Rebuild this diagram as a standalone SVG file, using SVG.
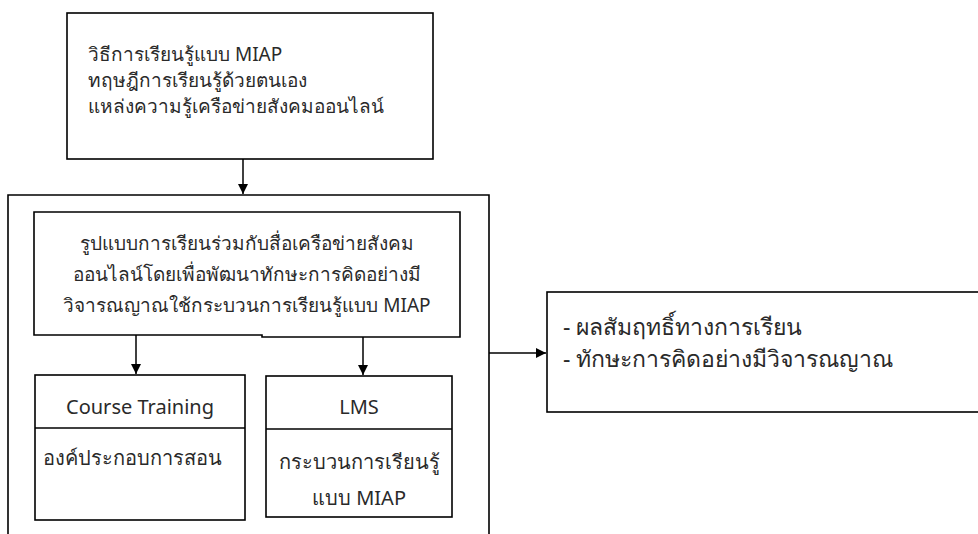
<svg xmlns="http://www.w3.org/2000/svg" width="978" height="534" viewBox="0 0 978 534">
<defs>
<marker id="ah" viewBox="0 0 10 10" refX="10" refY="5" markerWidth="10" markerHeight="10" markerUnits="userSpaceOnUse" orient="auto">
<path d="M0,0 L10,5 L0,10 z" fill="#000"/>
</marker>
<style>
.box{fill:#fff;stroke:#000;stroke-width:1.6}
.ln{fill:none;stroke:#000;stroke-width:1.6}
.t{font-family:"Noto Sans","Liberation Sans",sans-serif;font-size:19px;fill:#2a2a2a}
.m{font-size:20px}
.r{font-size:23px}
.c{text-anchor:middle}
.con{fill:none;stroke:#000;stroke-width:1.5;marker-end:url(#ah)}
</style>
</defs>
<rect width="978" height="534" fill="#fff"/>
<g id="top">
<rect class="box" x="67" y="13" width="366" height="146"/>
<text class="t" x="88" y="61">วิธีการเรียนรู้แบบ MIAP</text>
<text class="t" x="88" y="87">ทฤษฎีการเรียนรู้ด้วยตนเอง</text>
<text class="t" x="88" y="113">แหล่งความรู้เครือข่ายสังคมออนไลน์</text>
</g>
<g id="container">
<path class="ln" d="M8,540 V195 H489 V540"/>
</g>
<g id="model">
<path class="box" d="M34,212 H460 V337 H262 V335 H34 Z"/>
<text class="t c" x="247" y="250">รูปแบบการเรียนร่วมกับสื่อเครือข่ายสังคม</text>
<text class="t c" x="247" y="281">ออนไลน์โดยเพื่อพัฒนาทักษะการคิดอย่างมี</text>
<text class="t c" x="247" y="312">วิจารณญาณใช้กระบวนการเรียนรู้แบบ MIAP</text>
</g>
<g id="course">
<rect class="box" x="35" y="375" width="210" height="145"/>
<line class="ln" x1="35" y1="428" x2="245" y2="428"/>
<text class="t m c" x="140" y="414">Course Training</text>
<text class="t m" x="43" y="465">องค์ประกอบการสอน</text>
</g>
<g id="lms">
<rect class="box" x="266" y="376" width="186" height="141"/>
<line class="ln" x1="266" y1="429" x2="452" y2="429"/>
<text class="t m c" x="359" y="414">LMS</text>
<text class="t m c" x="359" y="469">กระบวนการเรียนรู้</text>
<text class="t m c" x="359" y="505">แบบ MIAP</text>
</g>
<g id="result">
<rect class="box" x="547" y="292" width="440" height="120"/>
<text class="t r" x="563" y="335">- ผลสัมฤทธิ์ทางการเรียน</text>
<text class="t r" x="563" y="367">- ทักษะการคิดอย่างมีวิจารณญาณ</text>
</g>
<g id="connectors">
<line class="con" x1="243" y1="159" x2="243" y2="194"/>
<line class="con" x1="136" y1="335" x2="136" y2="374"/>
<line class="con" x1="363" y1="337" x2="363" y2="375"/>
<line class="con" x1="489" y1="353" x2="546" y2="353"/>
</g>
</svg>
